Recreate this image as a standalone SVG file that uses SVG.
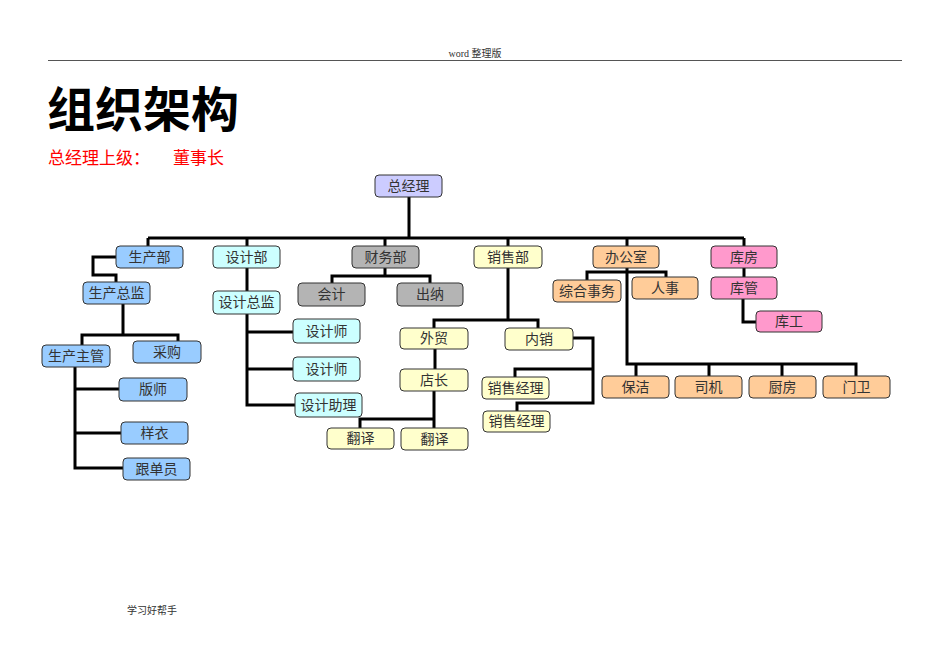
<svg xmlns="http://www.w3.org/2000/svg" width="950" height="672" viewBox="0 0 950 672">
<style>
.n{stroke:#333;stroke-width:1;}
.t{font-family:"Liberation Serif","Noto Sans CJK SC",serif;font-size:14px;fill:#333;text-anchor:middle;dominant-baseline:central;}
.c{fill:none;stroke:#000;stroke-width:3;}
.blue{fill:#99ccff}.cyan{fill:#ccffff}.gray{fill:#b4b4b4}.yel{fill:#ffffcc}.org{fill:#ffcc99}.pink{fill:#ff99cc}.lav{fill:#ccccff}
</style>
<rect width="950" height="672" fill="#fff"/>
<text x="475" y="57" font-family="Liberation Serif,'Noto Sans CJK SC',serif" font-size="10" fill="#333" text-anchor="middle">word 整理版</text>
<line x1="48" y1="60.5" x2="902" y2="60.5" stroke="#555" stroke-width="1"/>
<text x="47" y="127" font-family="'Noto Sans CJK SC',sans-serif" font-size="48" font-weight="bold" fill="#000">组织架构</text>
<text x="48" y="164" font-family="'Noto Sans CJK SC',sans-serif" font-size="17" fill="#f00">总经理上级：</text>
<text x="173" y="164" font-family="'Noto Sans CJK SC',sans-serif" font-size="17" fill="#f00">董事长</text>
<text x="127" y="614" font-family="Liberation Serif,'Noto Sans CJK SC',serif" font-size="10" fill="#333">学习好帮手</text>

<g id="connectors">
<path class="c" d="M409 197V238M148 238H744M148 238V246M247 238V246M385 238V246M508 238V246M627 238V246M744 238V246"/>
<path class="c" d="M116 257H93V275H116V282"/>
<path class="c" d="M123 304V335M82 345V335H178V341"/>
<path class="c" d="M75 367V468H123M75 389H119M75 433H121"/>
<path class="c" d="M247 268V291M247 314V405H295M247 332H293M247 369H293"/>
<path class="c" d="M385 268V276M332 283V276H430V283"/>
<path class="c" d="M508 268V320M434 328V320H538V328"/>
<path class="c" d="M435 349V369M434 391V428M360 428V419H434"/>
<path class="c" d="M573 338H593V403H517V411M593 369H515V377"/>
<path class="c" d="M627 268V364H856V376M587 280V272H666V277M636 364V376M709 364V376M782 364V376"/>
<path class="c" d="M744 268V277M743 299V322H756"/>
</g>

<g id="n-zjl"><rect class="n lav" x="375" y="175" width="67" height="22" rx="4"/><text class="t" x="408.5" y="186">总经理</text></g>

<g id="n-scb"><rect class="n blue" x="116" y="246" width="67" height="22" rx="4"/><text class="t" x="149.5" y="257">生产部</text></g>
<g id="n-sjb"><rect class="n cyan" x="213" y="246" width="67" height="22" rx="4"/><text class="t" x="246.5" y="257">设计部</text></g>
<g id="n-cwb"><rect class="n gray" x="352" y="246" width="67" height="22" rx="4"/><text class="t" x="385.5" y="257">财务部</text></g>
<g id="n-xsb"><rect class="n yel" x="474" y="246" width="68" height="22" rx="4"/><text class="t" x="508" y="257">销售部</text></g>
<g id="n-bgs"><rect class="n org" x="593" y="246" width="66" height="22" rx="4"/><text class="t" x="626" y="257">办公室</text></g>
<g id="n-kf"><rect class="n pink" x="711" y="246" width="66" height="22" rx="4"/><text class="t" x="744" y="257">库房</text></g>

<g id="n-sczj"><rect class="n blue" x="83" y="282" width="67" height="22" rx="4"/><text class="t" x="116.5" y="293">生产总监</text></g>
<g id="n-sczg"><rect class="n blue" x="42" y="345" width="68" height="22" rx="4"/><text class="t" x="76" y="356">生产主管</text></g>
<g id="n-cg"><rect class="n blue" x="133" y="341" width="68" height="22" rx="4"/><text class="t" x="167" y="352">采购</text></g>
<g id="n-bs"><rect class="n blue" x="119" y="378" width="68" height="23" rx="4"/><text class="t" x="153" y="389.5">版师</text></g>
<g id="n-yy"><rect class="n blue" x="121" y="422" width="67" height="22" rx="4"/><text class="t" x="154.5" y="433">样衣</text></g>
<g id="n-gdy"><rect class="n blue" x="123" y="458" width="67" height="22" rx="4"/><text class="t" x="156.5" y="469">跟单员</text></g>

<g id="n-sjzj"><rect class="n cyan" x="213" y="291" width="67" height="23" rx="4"/><text class="t" x="246.5" y="302.5">设计总监</text></g>
<g id="n-sjs1"><rect class="n cyan" x="293" y="319" width="67" height="24" rx="4"/><text class="t" x="326.5" y="331">设计师</text></g>
<g id="n-sjs2"><rect class="n cyan" x="293" y="357" width="67" height="24" rx="4"/><text class="t" x="326.5" y="369">设计师</text></g>
<g id="n-sjzl"><rect class="n cyan" x="295" y="393" width="67" height="24" rx="4"/><text class="t" x="328.5" y="405">设计助理</text></g>

<g id="n-kj"><rect class="n gray" x="298" y="283" width="67" height="23" rx="4"/><text class="t" x="331.5" y="294.5">会计</text></g>
<g id="n-cn"><rect class="n gray" x="397" y="283" width="66" height="23" rx="4"/><text class="t" x="430" y="294.5">出纳</text></g>

<g id="n-wm"><rect class="n yel" x="400" y="328" width="68" height="21" rx="4"/><text class="t" x="434" y="338.5">外贸</text></g>
<g id="n-nx"><rect class="n yel" x="505" y="328" width="68" height="22" rx="4"/><text class="t" x="539" y="339">内销</text></g>
<g id="n-dz"><rect class="n yel" x="400" y="369" width="68" height="22" rx="4"/><text class="t" x="434" y="380">店长</text></g>
<g id="n-fy1"><rect class="n yel" x="327" y="428" width="67" height="21" rx="4"/><text class="t" x="360.5" y="438.5">翻译</text></g>
<g id="n-fy2"><rect class="n yel" x="401" y="428" width="67" height="22" rx="4"/><text class="t" x="434.5" y="439">翻译</text></g>
<g id="n-xsjl1"><rect class="n yel" x="482" y="377" width="67" height="22" rx="4"/><text class="t" x="515.5" y="388">销售经理</text></g>
<g id="n-xsjl2"><rect class="n yel" x="483" y="411" width="67" height="21" rx="4"/><text class="t" x="516.5" y="421.5">销售经理</text></g>

<g id="n-zhsw"><rect class="n org" x="553" y="280" width="68" height="22" rx="4"/><text class="t" x="587" y="291">综合事务</text></g>
<g id="n-rs"><rect class="n org" x="632" y="277" width="66" height="22" rx="4"/><text class="t" x="665" y="288">人事</text></g>
<g id="n-bj"><rect class="n org" x="602" y="376" width="67" height="22" rx="4"/><text class="t" x="635.5" y="387">保洁</text></g>
<g id="n-sj"><rect class="n org" x="675" y="376" width="67" height="22" rx="4"/><text class="t" x="708.5" y="387">司机</text></g>
<g id="n-cf"><rect class="n org" x="749" y="376" width="67" height="22" rx="4"/><text class="t" x="782.5" y="387">厨房</text></g>
<g id="n-mw"><rect class="n org" x="823" y="376" width="67" height="22" rx="4"/><text class="t" x="856.5" y="387">门卫</text></g>

<g id="n-kg"><rect class="n pink" x="711" y="277" width="66" height="22" rx="4"/><text class="t" x="744" y="288">库管</text></g>
<g id="n-kg2"><rect class="n pink" x="756" y="311" width="66" height="21" rx="4"/><text class="t" x="789" y="321.5">库工</text></g>
</svg>
